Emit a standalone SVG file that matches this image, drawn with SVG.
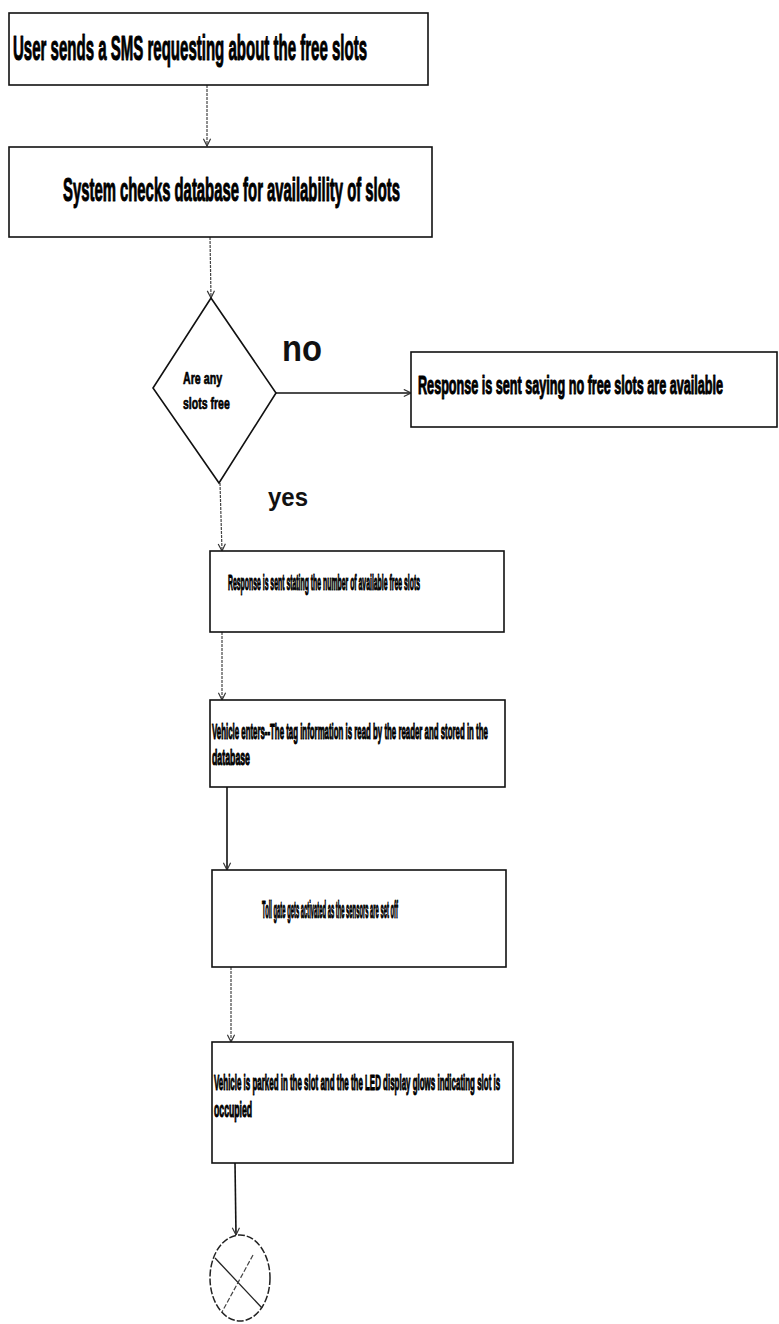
<svg xmlns="http://www.w3.org/2000/svg" width="779" height="1324" viewBox="0 0 779 1324">
<style>
.box{fill:#fff;stroke:#111;stroke-width:1.6}
.t{font-family:"Liberation Sans",Arial,sans-serif;font-weight:bold;fill:#000;stroke:#000;stroke-width:1.1;stroke-linejoin:round}
.lbl{font-family:"Liberation Sans",Arial,sans-serif;font-weight:bold;fill:#111}
.c{fill:none;stroke:#444;stroke-width:1.2;stroke-dasharray:3 1}
.cs{fill:none;stroke:#111;stroke-width:1.6}
</style>
<defs>
<marker id="ah" viewBox="0 0 10 10" refX="9" refY="5" markerWidth="9" markerHeight="9" markerUnits="userSpaceOnUse" orient="auto">
<path d="M1,1 L9,5 L1,9" fill="none" stroke="#333" stroke-width="1.3"/>
</marker>
</defs>
<rect width="779" height="1324" fill="#fff"/>
<g id="connectors">
<line class="c" x1="207" y1="85" x2="207" y2="146" marker-end="url(#ah)"/>
<line class="c" x1="210" y1="237" x2="211" y2="298" marker-end="url(#ah)"/>
<line class="cs" x1="276" y1="393" x2="411" y2="393" marker-end="url(#ah)"/>
<line class="c" x1="220" y1="483" x2="222" y2="551" marker-end="url(#ah)"/>
<line class="c" x1="222" y1="632" x2="222" y2="700" marker-end="url(#ah)"/>
<line class="cs" x1="227" y1="787" x2="227" y2="870" marker-end="url(#ah)"/>
<line class="c" x1="231" y1="967" x2="231" y2="1042" marker-end="url(#ah)"/>
<line class="cs" x1="235" y1="1163" x2="236" y2="1235" marker-end="url(#ah)"/>
</g>
<g id="n1">
<rect class="box" x="9" y="13" width="419" height="72"/>
<text class="t" transform="translate(13,60) scale(0.42,1)" font-size="36" textLength="843" lengthAdjust="spacingAndGlyphs">User sends a SMS requesting about the free slots</text>
</g>
<g id="n2">
<rect class="box" x="9" y="147" width="423" height="90"/>
<text class="t" transform="translate(63,201) scale(0.41,1)" font-size="34" textLength="822" lengthAdjust="spacingAndGlyphs">System checks database for availability of slots</text>
</g>
<g id="n3">
<polygon class="box" points="211,298 276,393 219,483 153,388"/>
<text class="t" transform="translate(183,384) scale(0.62,1)" font-size="17" textLength="63" lengthAdjust="spacingAndGlyphs" style="stroke-width:0.7">Are any</text>
<text class="t" transform="translate(183,409) scale(0.6,1)" font-size="17" textLength="78" lengthAdjust="spacingAndGlyphs" style="stroke-width:0.7">slots free</text>
</g>
<text class="lbl" x="282" y="361" font-size="36" textLength="40" lengthAdjust="spacingAndGlyphs">no</text>
<text class="lbl" x="268" y="506" font-size="26" textLength="40" lengthAdjust="spacingAndGlyphs">yes</text>
<g id="n4">
<rect class="box" x="411" y="352" width="366" height="75"/>
<text class="t" transform="translate(418,394) scale(0.47,1)" font-size="26" textLength="649" lengthAdjust="spacingAndGlyphs">Response is sent saying no free slots are available</text>
</g>
<g id="n5">
<rect class="box" x="210" y="551" width="294" height="81"/>
<text class="t" transform="translate(228,590) scale(0.3,1)" font-size="22" textLength="640" lengthAdjust="spacingAndGlyphs">Response is sent stating the number of available free slots</text>
</g>
<g id="n6">
<rect class="box" x="210" y="700" width="295" height="87"/>
<text class="t" transform="translate(212,739) scale(0.33,1)" font-size="22" textLength="836" lengthAdjust="spacingAndGlyphs">Vehicle enters--The tag information is read by the reader and stored in the</text>
<text class="t" transform="translate(212,765) scale(0.38,1)" font-size="22" textLength="100" lengthAdjust="spacingAndGlyphs">database</text>
</g>
<g id="n7">
<rect class="box" x="212" y="870" width="294" height="97"/>
<text class="t" transform="translate(262,918) scale(0.23,1)" font-size="24" textLength="591" lengthAdjust="spacingAndGlyphs">Toll gate gets activated as the sensors are set off</text>
</g>
<g id="n8">
<rect class="box" x="212" y="1042" width="301" height="121"/>
<text class="t" transform="translate(214,1090) scale(0.31,1)" font-size="22" textLength="923" lengthAdjust="spacingAndGlyphs">Vehicle is parked in the slot and the the LED display glows indicating slot is</text>
<text class="t" transform="translate(214,1117) scale(0.35,1)" font-size="22" textLength="109" lengthAdjust="spacingAndGlyphs">occupied</text>
</g>
<g id="n9">
<ellipse cx="240" cy="1278" rx="30" ry="43" fill="#fff" stroke="#222" stroke-width="1.5" stroke-dasharray="7 2"/>
<line x1="215" y1="1258" x2="262" y2="1308" stroke="#222" stroke-width="1.3"/>
<line x1="253" y1="1255" x2="222" y2="1312" stroke="#444" stroke-width="1.2" stroke-dasharray="5 2"/>
</g>
</svg>
